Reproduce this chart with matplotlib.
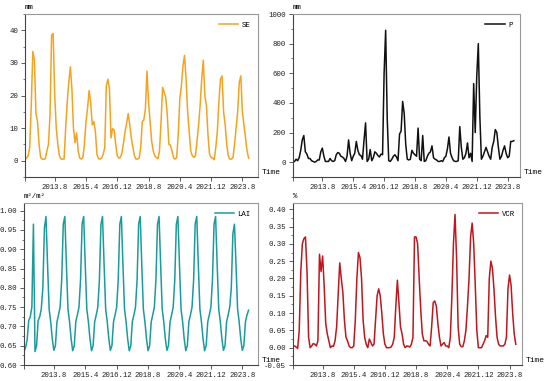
import numpy as np
import matplotlib.pyplot as plt
from matplotlib.ticker import AutoMinorLocator

# --- データ (月次 2012.1 - 2023.12) ---
se = [
    0.5, 0.8, 1.5, 4, 17, 33.5, 31, 14.5, 12, 5, 1, 0.5,
    0.4, 0.6, 3, 5, 14, 38.5, 39, 20, 10, 5, 1.5, 0.5,
    0.5, 0.5, 10, 18, 24, 28.8, 22, 10, 5.5, 8.5, 3, 0.8,
    0.5, 1, 5, 12, 16, 21.5, 18, 11, 12, 9, 2, 0.6,
    0.5, 0.8, 2, 4, 23, 25, 22, 7, 9.8, 9.5, 5, 1.5,
    0.8, 1, 2.5, 5.5, 9, 11.5, 14.5, 11, 7, 4, 1.5, 0.5,
    0.5, 0.8, 4, 12, 12.5, 16, 27.5, 18, 12, 6, 3, 1.5,
    1, 0.6, 3, 12, 22.5, 21, 19.5, 14, 5, 4.8, 3, 0.8,
    0.5, 1, 8, 19, 23, 29, 32.3, 25, 15, 9, 3, 1.5,
    1, 1.5, 6, 11, 17, 25, 30.8, 20, 17, 8, 2, 1,
    0.8, 0.3, 4, 9, 18, 25, 26, 15, 11, 5, 1.5, 0.5,
    0.5, 1, 5, 10, 15, 24, 26, 15, 11, 7, 3, 0.8,
]

p = [
    0, 5, 20, 10, 30, 80, 150, 180, 70, 55, 25, 25,
    10, 5, 0, 5, 15, 15, 70, 95, 40, 5, 5, 5,
    25, 10, 5, 10, 50, 65, 60, 40, 35, 25, 5, 40,
    150, 60, 10, 40, 60, 140, 80, 50, 45, 20, 150, 265,
    5, 20, 85, 10, 30, 70, 60, 45, 35, 55, 50, 600,
    890, 300, 10, 5, 20, 40, 50, 35, 10, 190, 210, 410,
    330, 120, 20, 15, 20, 80, 60, 50, 40, 230, 20, 10,
    180, 5, 10, 40, 60, 70, 110, 30, 20, 15, 5, 5,
    10, 5, 30, 40, 90, 170, 60, 30, 10, 5, 5, 10,
    240, 100, 20, 30, 60, 130, 30, 60, 5, 530, 200, 580,
    800, 310, 20, 40, 70, 100, 70, 40, 20, 100, 140, 220,
    200, 100, 20, 40, 80, 110, 60, 30, 40, 140, 140, 145,
]

lai = [
    0.635, 0.645, 0.665, 0.715, 0.725, 0.75, 0.965, 0.635, 0.65, 0.715, 0.725, 0.745,
    0.80, 0.955, 0.985, 0.86, 0.745, 0.712, 0.668, 0.638, 0.65, 0.712, 0.73, 0.75,
    0.82, 0.965, 0.985, 0.86, 0.745, 0.712, 0.668, 0.637, 0.65, 0.713, 0.73, 0.75,
    0.82, 0.966, 0.985, 0.86, 0.745, 0.712, 0.668, 0.637, 0.65, 0.712, 0.73, 0.75,
    0.82, 0.965, 0.985, 0.86, 0.745, 0.712, 0.668, 0.638, 0.65, 0.712, 0.73, 0.75,
    0.82, 0.965, 0.985, 0.86, 0.745, 0.712, 0.668, 0.637, 0.65, 0.713, 0.73, 0.75,
    0.82, 0.966, 0.985, 0.86, 0.745, 0.712, 0.668, 0.637, 0.65, 0.712, 0.73, 0.75,
    0.82, 0.965, 0.985, 0.86, 0.745, 0.712, 0.668, 0.638, 0.65, 0.712, 0.73, 0.75,
    0.82, 0.965, 0.985, 0.86, 0.745, 0.712, 0.668, 0.637, 0.65, 0.713, 0.73, 0.75,
    0.82, 0.966, 0.985, 0.86, 0.745, 0.712, 0.668, 0.637, 0.65, 0.712, 0.73, 0.75,
    0.82, 0.965, 0.985, 0.86, 0.745, 0.712, 0.668, 0.638, 0.65, 0.712, 0.73, 0.75,
    0.80, 0.94, 0.965, 0.86, 0.745, 0.712, 0.668, 0.638, 0.65, 0.712, 0.73, 0.742,
]

vcr = [
    0.005, 0.005, 0.002, -0.002, 0.05, 0.22, 0.30, 0.315, 0.32, 0.22, 0.03, 0.0,
    0.005, 0.012, 0.01, 0.005, 0.02, 0.27, 0.22, 0.265, 0.18, 0.07, 0.04, 0.02,
    0.0, 0.005, 0.004, 0.02, 0.06, 0.15, 0.245, 0.20, 0.16, 0.08, 0.03, 0.02,
    0.005, 0.0, 0.0, 0.005, 0.08, 0.20, 0.275, 0.26, 0.20, 0.08, 0.03, 0.01,
    0.0, 0.025, 0.015, 0.005, 0.01, 0.08, 0.15, 0.17, 0.15, 0.10, 0.04, 0.01,
    0.0, 0.0, 0.0, 0.002, 0.01, 0.03, 0.12, 0.195, 0.13, 0.06, 0.04, 0.01,
    0.0, 0.005, 0.004, 0.002, 0.01, 0.03, 0.32, 0.32, 0.30, 0.20, 0.11, 0.04,
    0.02, 0.02, 0.018, 0.01, 0.005, 0.06, 0.13, 0.135, 0.12, 0.07, 0.03, 0.005,
    0.01, 0.015, 0.005, 0.005, 0.0, 0.03, 0.15, 0.30, 0.385, 0.26, 0.06, 0.01,
    0.003, 0.003, 0.02, 0.05, 0.12, 0.20, 0.32, 0.36, 0.30, 0.18, 0.05, 0.0,
    0.0, 0.0, 0.01, 0.02, 0.035, 0.03, 0.20, 0.25, 0.23, 0.17, 0.09, 0.03,
    0.01, 0.005, 0.005, 0.005, 0.01, 0.03, 0.17, 0.21, 0.18, 0.10, 0.04, 0.01,
]

tick_pos = [0, 19, 39, 59, 79, 99, 119, 139]
tick_labels = ["", "2013.8", "2015.4", "2016.12", "2018.8", "2020.4", "2021.12", "2023.8"]

FONT = "Liberation Mono"
FS = 5.3
plt.rcParams["font.family"] = FONT

fig = plt.figure(figsize=(5.5, 3.81), dpi=100)
W, H = 550, 381


def make_ax(l, r, t, b):
    return fig.add_axes([l / W, 1 - b / H, (r - l) / W, (b - t) / H])


def style(ax, data, color, name, unit, ylim, yticks, yfmt, xmax):
    x = np.arange(len(data))
    ax.plot(x, data, color=color, linewidth=1.1, label=name)
    ax.set_xlim(0, xmax)
    ax.set_ylim(*ylim)
    ax.set_yticks(yticks)
    ax.set_yticklabels([yfmt.format(v) for v in yticks])
    ax.yaxis.set_minor_locator(AutoMinorLocator(2))
    ax.set_xticks(tick_pos)
    ax.set_xticklabels(tick_labels)
    ax.tick_params(axis="both", labelsize=FS, length=3, width=0.6, color="#444444",
                   labelcolor="#222222", pad=2)
    ax.tick_params(axis="y", which="minor", length=1.8, width=0.5, color="#444444")
    for s in ["left", "bottom"]:
        ax.spines[s].set_color("#444444")
        ax.spines[s].set_linewidth(0.8)
    for s in ["top", "right"]:
        ax.spines[s].set_color("#999999")
        ax.spines[s].set_linewidth(0.8)
    ax.legend(loc="upper right", frameon=False, fontsize=FS, handlelength=2.6,
              borderaxespad=0.6, handletextpad=0.5)
    ax.text(0.0, 1.02, unit, transform=ax.transAxes, fontsize=FS, ha="left", va="bottom")
    ax.text(1.015, 0.03, "Time", transform=ax.transAxes, fontsize=FS + 0.5, ha="left", va="center",
            clip_on=False)


ax1 = make_ax(25, 258, 14, 177)
style(ax1, se, "#F5A31E", "SE", "mm", (-5, 45), [0, 10, 20, 30, 40], "{:.0f}", 149)

ax2 = make_ax(293, 520, 14, 177)
style(ax2, p, "#111111", "P", "mm", (-100, 1000), [0, 200, 400, 600, 800, 1000], "{:.0f}", 147)

ax3 = make_ax(24, 258, 203, 365)
style(ax3, lai, "#1A9C9C", "LAI", "m²/m²", (0.60, 1.02),
      [0.60, 0.65, 0.70, 0.75, 0.80, 0.85, 0.90, 0.95, 1.00], "{:.2f}", 149)

ax4 = make_ax(293, 522, 203, 365)
style(ax4, vcr, "#C0161C", "VCR", "%", (-0.05, 0.418),
      [-0.05, 0.00, 0.05, 0.10, 0.15, 0.20, 0.25, 0.30, 0.35, 0.40], "{:.2f}", 147)

fig.savefig("out.png", dpi=100)
